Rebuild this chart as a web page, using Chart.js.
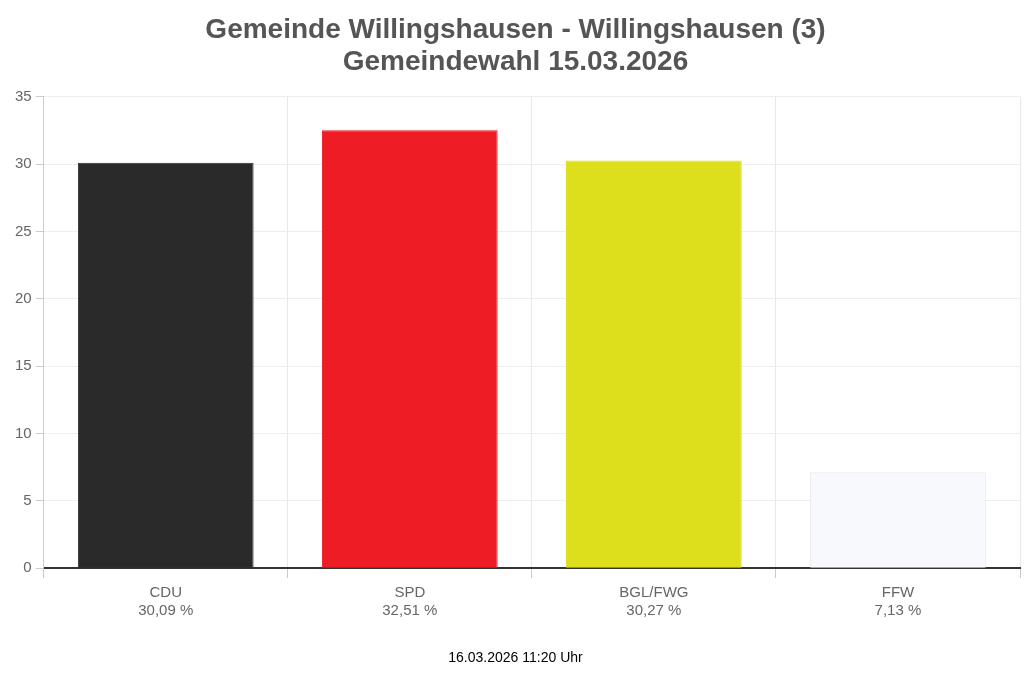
<!DOCTYPE html>
<html>
<head>
<meta charset="utf-8">
<script src="https://cdn.jsdelivr.net/npm/chart.js@4"></script>
<style>
  html, body { margin: 0; padding: 0; background: #fff; overflow: hidden; }
</style>
</head>
<body>
<canvas id="chart" width="1024" height="673"></canvas>
<script>
// Daten
const parteien = ['CDU', 'SPD', 'BGL/FWG', 'FFW'];
const prozente = [30.09, 32.51, 30.27, 7.13];
const farben = ['#2b2a2a', '#ee1c25', '#dedf1c', '#f7f9fc'];
const rahmen = ['#2b2a2a', '#ee1c25', '#dedf1c', '#e6eaf0'];
const yTicks = [0, 5, 10, 15, 20, 25, 30, 35];

function formatProzent(v) {
	return v.toFixed(2).replace('.', ',') + ' %';
}

new Chart(document.getElementById('chart'), {
	type: 'bar',
	data: {
		labels: parteien.map((p, i) => [p, formatProzent(prozente[i])]),
		datasets: [{
			data: prozente,
			backgroundColor: farben,
			borderColor: rahmen,
			borderWidth: 1,
			categoryPercentage: 0.72,
			barPercentage: 1,
		}],
	},
	options: {
		responsive: false,
		animation: false,
		devicePixelRatio: 1,
		layout: { padding: { left: 11, right: 4, top: 12, bottom: 6 } },
		plugins: {
			legend: { display: false },
			tooltip: { enabled: false },
			title: {
				display: true,
				text: ['Gemeinde Willingshausen - Willingshausen (3)', 'Gemeindewahl 15.03.2026'],
				color: '#555',
				font: { family: 'Liberation Sans', size: 28, weight: 'bold', lineHeight: 1.12 },
				padding: { top: 3, bottom: 19 },
			},
			subtitle: {
				display: true,
				position: 'bottom',
				text: '16.03.2026 11:20 Uhr',
				color: '#000',
				font: { family: 'Liberation Sans', size: 14 },
				padding: { top: 24, bottom: 0 },
			},
		},
		scales: {
			x: {
				grid: { display: true, offset: true, color: '#e8e8e8', tickLength: 10, drawTicks: true, tickColor: '#ccc' },
				border: { color: '#333', width: 2 },
				ticks: { color: '#666', font: { family: 'Liberation Sans', size: 15 }, padding: 6, maxRotation: 0 },
			},
			y: {
				min: 0,
				max: 35,
				afterBuildTicks: axis => { axis.ticks = yTicks.map(v => ({ value: v })); },
				grid: { color: '#eeeeee', tickLength: 8, tickColor: '#ccc' },
				border: { color: '#ccc' },
				ticks: { color: '#666', font: { family: 'Liberation Sans', size: 15 }, padding: 4 },
			},
		},
	},
});
</script>
</body>
</html>
